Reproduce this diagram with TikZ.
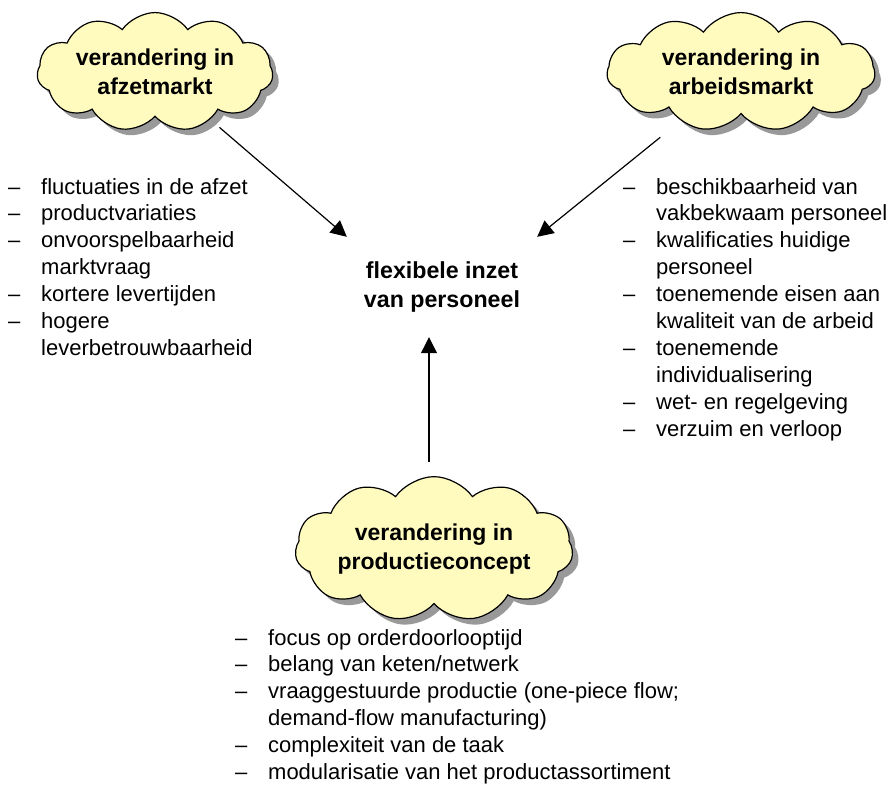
\documentclass[tikz,border=0pt]{standalone}
\usepackage{fontspec}
\setmainfont{Liberation Sans}
\usetikzlibrary{shapes.symbols,shadows,arrows.meta}
\definecolor{wolkgeel}{RGB}{255,251,190}
\tikzset{wolk/.style={cloud, cloud puffs=11, cloud puff arc=110, aspect=2.5,
  draw=black, line width=1.2pt, fill=wolkgeel, minimum width=#1, minimum height=94pt,
  inner sep=0pt, align=center, font=\fontsize{23}{29}\selectfont\bfseries,
  drop shadow={shadow xshift=6pt, shadow yshift=-6pt, fill=black!40, opacity=1}},
%default width of a cloud
wolk/.default={240pt},
pijl/.style={-{Triangle[length=16pt,width=16pt]}, line width=1.2pt},
lijst/.style={anchor=base west, inner sep=0pt, font=\fontsize{22}{26.9}\selectfont}}
\newcommand{\lijstbegin}{\begin{tabular}[t]{@{}p{33pt}@{}l@{}}}
\newcommand{\lijsteind}{\end{tabular}}

\begin{document}
\begin{tikzpicture}[x=1pt,y=-1pt]
    \useasboundingbox (0,0) rectangle (890,793);

    \coordinate (A) at (155,72);
    \coordinate (B) at (741,72);
    \coordinate (C) at (434,549);
    \coordinate (M) at (442,287);

    \node[wolk=236pt] (afzet) at (A) {verandering in\\afzetmarkt};
    \node[wolk=268pt] (arbeid) at (B) {verandering in\\arbeidsmarkt};
    \node[wolk=276pt] (prodc) at (C) {verandering in\\productieconcept};

    \node[minimum width=190pt, minimum height=100pt, align=center,
      font=\fontsize{23.2}{29.5}\selectfont\bfseries] (inzet) at (M)
      {flexibele inzet\\van personeel};

    \draw[pijl, shorten <=12pt] (afzet) -- (inzet.north west);
    \draw[pijl, shorten <=26pt] (arbeid) -- (inzet.north east);
    \draw[pijl, shorten <=14pt] ([xshift=-5pt]prodc.north) -- ([xshift=-13pt]inzet.south);

    \node[lijst] (lijstA) at (8,194) {\lijstbegin
      -- & fluctuaties in de afzet\\
      -- & productvariaties\\
      -- & onvoorspelbaarheid\\
         & marktvraag\\
      -- & kortere levertijden\\
      -- & hogere\\
         & leverbetrouwbaarheid
    \lijsteind};

    \node[lijst] (lijstB) at (623,194) {\lijstbegin
      -- & beschikbaarheid van\\
         & vakbekwaam personeel\\
      -- & kwalificaties huidige\\
         & personeel\\
      -- & toenemende eisen aan\\
         & kwaliteit van de arbeid\\
      -- & toenemende\\
         & individualisering\\
      -- & wet- en regelgeving\\
      -- & verzuim en verloop
    \lijsteind};

    \node[lijst] (lijstC) at (235,645) {\lijstbegin
      -- & focus op orderdoorlooptijd\\
      -- & belang van keten/netwerk\\
      -- & vraaggestuurde productie (one-piece flow;\\
         & demand-flow manufacturing)\\
      -- & complexiteit van de taak\\
      -- & modularisatie van het productassortiment
    \lijsteind};

  \end{tikzpicture}
\end{document}
